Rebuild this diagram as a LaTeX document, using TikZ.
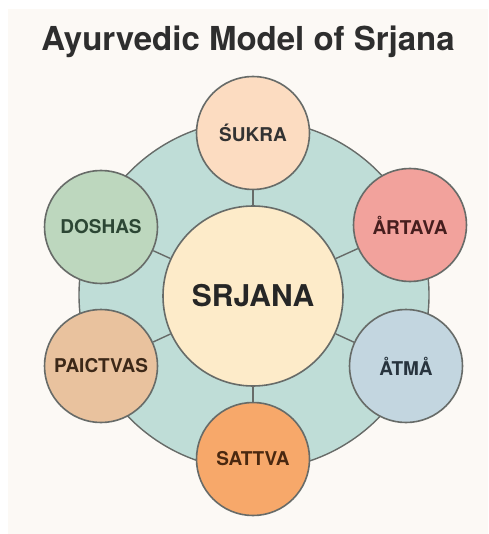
\documentclass[tikz,border=0pt]{standalone}
\usepackage{fontspec}
\setmainfont{TeX Gyre Heros}
\usepackage{tikz}
\usetikzlibrary{positioning}

\definecolor{bgcream}{HTML}{FCF9F5}
\definecolor{ringteal}{HTML}{BFDDD7}
\definecolor{edgegray}{HTML}{676B68}
\definecolor{srjanafill}{HTML}{FDEBC9}
\definecolor{sukrafill}{HTML}{FCDCC1}
\definecolor{doshafill}{HTML}{BDD7BE}
\definecolor{artavafill}{HTML}{F2A29C}
\definecolor{atmafill}{HTML}{C3D6E0}
\definecolor{paicfill}{HTML}{E9C29E}
\definecolor{sattvafill}{HTML}{F7A86A}

\tikzset{
  hub/.style={circle, draw=edgegray, line width=1.6pt, fill=srjanafill,
    minimum size=180pt, inner sep=0pt, font=\fontsize{30}{34}\selectfont\bfseries, text=black!85},
  petal/.style={circle, draw=edgegray, line width=1.6pt,
    minimum size=113pt, inner sep=0pt, font=\fontsize{19}{22}\selectfont\bfseries},
  spoke/.style={draw=edgegray, line width=1.4pt}
}

\begin{document}
\begin{tikzpicture}[x=1pt,y=-1pt]
            \fill[white] (0,0) rectangle (488,534);
            \useasboundingbox (0,0) rectangle (488,534);
            \fill[bgcream] (8,9) rectangle (488,534);
            \node[font=\fontsize{33}{37}\selectfont\bfseries, text=black!82] (title) at (248,42) {Ayurvedic Model of Srjana};
            % ring behind everything
            \filldraw[fill=ringteal, draw=edgegray, line width=1.4pt] (254,295) circle (175);
            \node[hub] (srjana) at (253,296) {SRJANA};
            \node[petal, fill=sukrafill, text=black!80] (sukra) at (253,133) {ŚUKRA};
            \node[petal, fill=doshafill, text={rgb,255:red,44;green,70;blue,52}] (doshas) at (101,227) {DOSHAS};
            \node[petal, fill=artavafill, text={rgb,255:red,70;green,30;blue,30}] (artava) at (410,225) {ÅRTAVA};
            \node[petal, fill=atmafill, text={rgb,255:red,40;green,52;blue,62}] (atma) at (406,366) {ÅTMÅ};
            \node[petal, fill=paicfill, text={rgb,255:red,60;green,40;blue,24}] (paictvas) at (101,366) {PAICTVAS};
            \node[petal, fill=sattvafill, text={rgb,255:red,74;green,40;blue,16}] (sattva) at (253,459) {SATTVA};
            \foreach \p in {sukra,doshas,artava,atma,paictvas,sattva}
              \draw[spoke] (srjana) -- (\p);
        \end{tikzpicture}
\end{document}
